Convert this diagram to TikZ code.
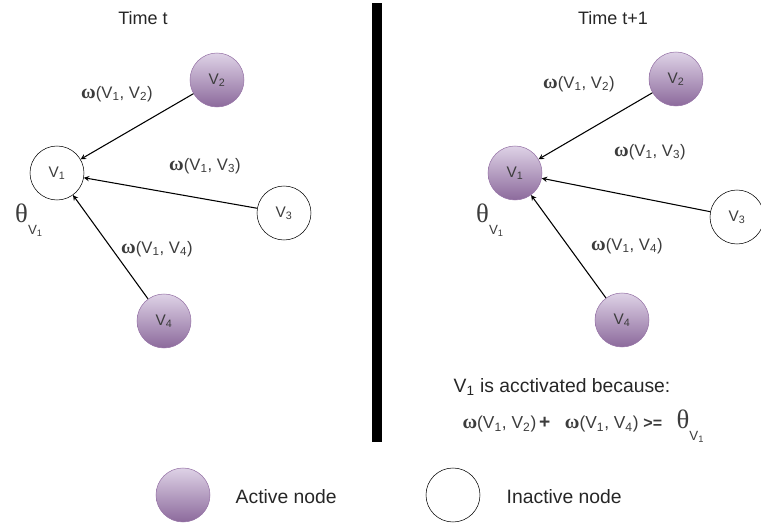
\documentclass[tikz,border=0pt]{standalone}
\usepackage{fontspec}
\setmainfont{Liberation Sans}
\newfontfamily\greekfont{Liberation Serif}
\usepackage{tikz}
\usetikzlibrary{shapes.geometric, arrows}
\usepackage{xcolor}
\definecolor{actdraw}{RGB}{150,115,166}
\definecolor{acttop}{RGB}{222,210,230}
\definecolor{actbot}{RGB}{140,106,156}
\definecolor{txtgrey}{RGB}{60,60,60}
\tikzstyle{arrow} = [thick,->,>=stealth]
\newcommand{\wgt}[2]{{\greekfont\bfseries\fontsize{15}{16}\selectfont ω}(V\textsubscript{#1}, V\textsubscript{#2})}
\newcommand{\thr}{{\greekfont\fontsize{20}{22}\selectfont θ}\raisebox{-1.3ex}{\fontsize{10}{12}\selectfont V\textsubscript{1}}}

\begin{document}
\begin{tikzpicture}
        [
            x=0.75pt, y=-0.75pt,
            active/.style={circle,draw=actdraw,top color=acttop,bottom color=actbot,minimum size=40.5pt,inner sep=0pt,text=txtgrey,font=\fontsize{11.5}{13}\selectfont},
            inactive/.style={circle,draw=black,fill=white,minimum size=40.5pt,inner sep=0pt,text=txtgrey,font=\fontsize{11.5}{13}\selectfont},
            lbl/.style={text=txtgrey,font=\fontsize{12.5}{14}\selectfont,inner sep=1pt},
            title/.style={text=black!85,font=\fontsize{13.5}{16}\selectfont},
        ]
    \useasboundingbox (0,0) rectangle (761,524);

    % time t
    \node[title] (tleft) at (143,18) {Time t};
    \node[inactive] (v1) at (57,173) {V\textsubscript{1}};
    \node[active] (v2) at (217,80) {V\textsubscript{2}};
    \node[inactive] (v3) at (284,213) {V\textsubscript{3}};
    \node[active] (v4) at (164,321) {V\textsubscript{4}};
    \draw[arrow] (v2) -- (v1);
    \draw[arrow] (v3) -- (v1);
    \draw[arrow] (v4) -- (v1);
    \node[lbl] (a12) at (117,94) {\wgt{1}{2}};
    \node[lbl] (a13) at (205,166) {\wgt{1}{3}};
    \node[lbl] (a14) at (157,249) {\wgt{1}{4}};
    \node[lbl] (th1) at (29,220) {\thr};

    % separator
    \fill[black] (372,3) rectangle (382,442);

    % time t+1
    \node[title] (tright) at (613,18) {Time t+1};
    \node[active] (w1) at (515,173) {V\textsubscript{1}};
    \node[active] (w2) at (676,79) {V\textsubscript{2}};
    \node[inactive] (w3) at (737,217) {V\textsubscript{3}};
    \node[active] (w4) at (622,320) {V\textsubscript{4}};
    \draw[arrow] (w2) -- (w1);
    \draw[arrow] (w3) -- (w1);
    \draw[arrow] (w4) -- (w1);
    \node[lbl] (b12) at (579,84) {\wgt{1}{2}};
    \node[lbl] (b13) at (650,152) {\wgt{1}{3}};
    \node[lbl] (b14) at (627,246) {\wgt{1}{4}};
    \node[lbl] (th2) at (490,220) {\thr};

    \node[title,font=\fontsize{14.5}{16}\selectfont,anchor=west] (why) at (449,387) {V\textsubscript{1} is acctivated because:};
    \node[lbl,font=\fontsize{13}{15}\selectfont,anchor=west] (sum) at (461,426) {\wgt{1}{2}\,{\Large\bfseries +}\;\; \wgt{1}{4} {\large\bfseries >=}\;\; \thr};

    % legend
    \node[active] (kact) at (183,495) {};
    \node[title,font=\fontsize{14.5}{16}\selectfont,anchor=west] (tact) at (231,497) {Active node};
    \node[inactive] (kina) at (453,495) {};
    \node[title,font=\fontsize{14.5}{16}\selectfont,anchor=west] (tina) at (502,497) {Inactive node};
    \end{tikzpicture}
\end{document}
